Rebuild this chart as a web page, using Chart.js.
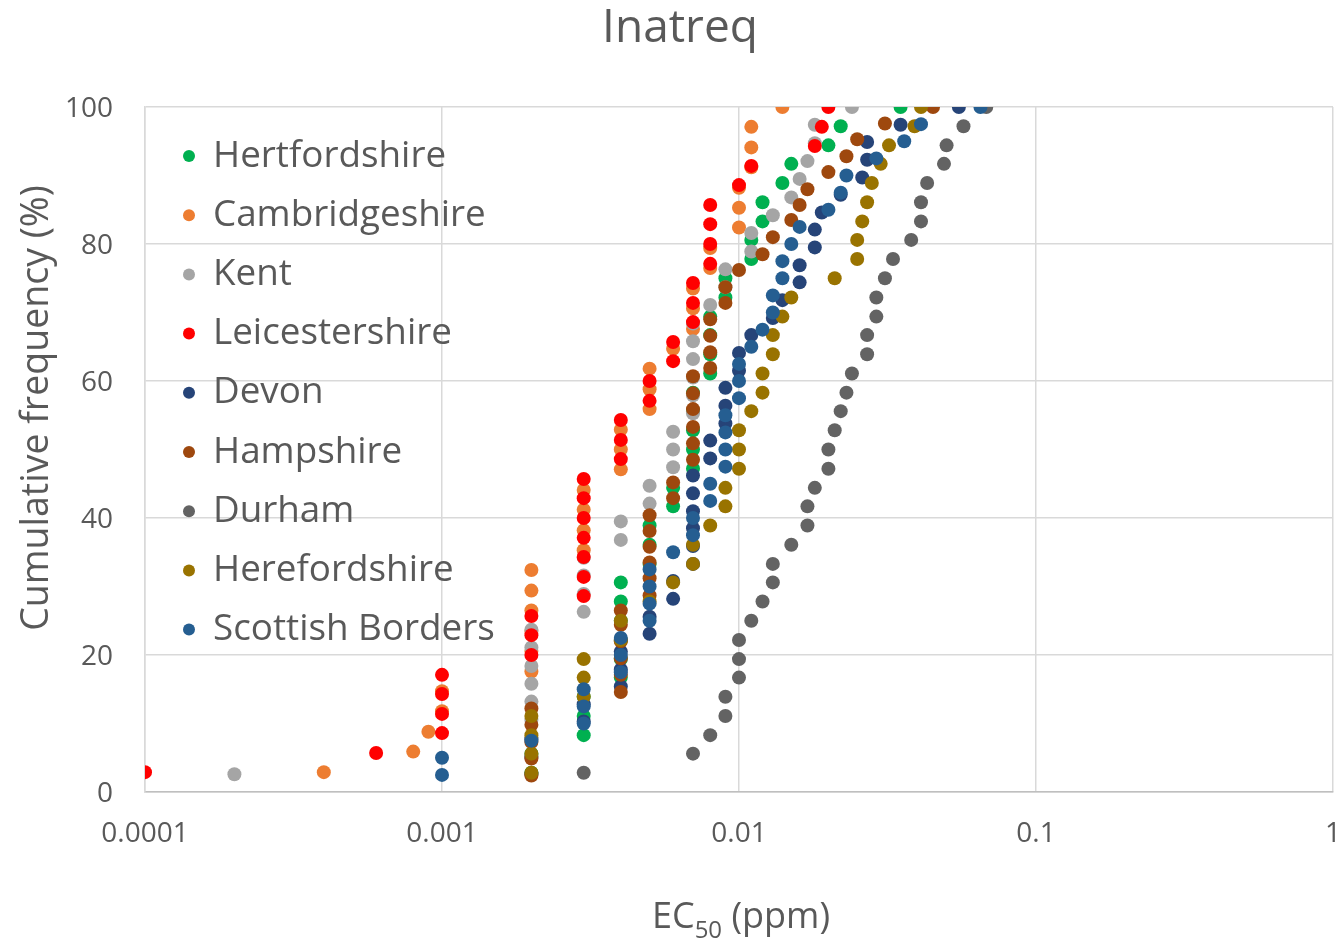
<!DOCTYPE html>
<html>
<head>
<meta charset="utf-8">
<title>Inatreq</title>
<script src="https://cdn.jsdelivr.net/npm/chart.js@4/dist/chart.umd.min.js"></script>
<style>
  html, body { margin: 0; padding: 0; background: #fff; }
  #wrap { position: relative; width: 1340px; height: 944px; }
</style>
</head>
<body>
<div id="wrap"><canvas id="chart" width="1340" height="944"></canvas></div>
<script>
const chartTitle = "Inatreq";
const yTitle = "Cumulative frequency (%)";
const xTitleMain = "EC";
const xTitleSub = "50";
const xTitleUnit = " (ppm)";

const xTicks = [0.0001, 0.001, 0.01, 0.1, 1];
const xTickLabels = ["0.0001", "0.001", "0.01", "0.1", "1"];
const yTicks = [0, 20, 40, 60, 80, 100];

const seriesNames = ["Hertfordshire", "Cambridgeshire", "Kent", "Leicestershire", "Devon", "Hampshire", "Durham", "Herefordshire", "Scottish Borders"];
const seriesColors = ["#00B050", "#ED7D31", "#A5A5A5", "#FF0000", "#264478", "#9E480E", "#636363", "#997300", "#255E91"];

// EC50 values (ppm) and cumulative frequency (%) per county
const hertsX = [0.002, 0.002, 0.003, 0.003, 0.003, 0.004, 0.004, 0.004, 0.004, 0.004, 0.004, 0.005, 0.005, 0.005, 0.006, 0.006, 0.007, 0.007, 0.007, 0.007, 0.007, 0.008, 0.008, 0.008, 0.008, 0.009, 0.009, 0.011, 0.011, 0.012, 0.012, 0.014, 0.015, 0.02, 0.022, 0.035];
const hertsY = [2.8, 5.6, 8.3, 11.1, 13.9, 16.7, 19.4, 22.2, 25, 27.8, 30.6, 33.3, 36.1, 38.9, 41.7, 44.4, 47.2, 50, 52.8, 55.6, 58.3, 61.1, 63.9, 66.7, 69.4, 72.2, 75, 77.8, 80.6, 83.3, 86.1, 88.9, 91.7, 94.4, 97.2, 100];

const cambsX = [0.0004, 0.0008, 0.0009, 0.001, 0.001, 0.002, 0.002, 0.002, 0.002, 0.002, 0.002, 0.003, 0.003, 0.003, 0.003, 0.004, 0.004, 0.004, 0.005, 0.005, 0.005, 0.006, 0.007, 0.007, 0.007, 0.008, 0.008, 0.01, 0.01, 0.01, 0.011, 0.011, 0.011, 0.014];
const cambsY = [2.9, 5.9, 8.8, 11.8, 14.7, 17.6, 20.6, 23.5, 26.5, 29.4, 32.4, 35.3, 38.2, 41.2, 44.1, 47.1, 50, 52.9, 55.9, 58.8, 61.8, 64.7, 67.6, 70.6, 73.5, 76.5, 79.4, 82.4, 85.3, 88.2, 91.2, 94.1, 97.1, 100];

const kentX = [0.0002, 0.002, 0.002, 0.002, 0.002, 0.002, 0.002, 0.002, 0.002, 0.003, 0.003, 0.003, 0.003, 0.004, 0.004, 0.005, 0.005, 0.006, 0.006, 0.006, 0.007, 0.007, 0.007, 0.007, 0.007, 0.007, 0.008, 0.009, 0.009, 0.011, 0.011, 0.013, 0.015, 0.016, 0.017, 0.018, 0.018, 0.024];
const kentY = [2.6, 5.3, 7.9, 10.5, 13.2, 15.8, 18.4, 21.1, 23.7, 26.3, 28.9, 31.6, 34.2, 36.8, 39.5, 42.1, 44.7, 47.4, 50, 52.6, 55.3, 57.9, 60.5, 63.2, 65.8, 68.4, 71.1, 73.7, 76.3, 78.9, 81.6, 84.2, 86.8, 89.5, 92.1, 94.7, 97.4, 100];

const leicsX = [0.0001, 0.0006, 0.001, 0.001, 0.001, 0.001, 0.002, 0.002, 0.002, 0.003, 0.003, 0.003, 0.003, 0.003, 0.003, 0.003, 0.004, 0.004, 0.004, 0.005, 0.005, 0.006, 0.006, 0.007, 0.007, 0.007, 0.008, 0.008, 0.008, 0.008, 0.01, 0.011, 0.018, 0.019, 0.02];
const leicsY = [2.9, 5.7, 8.6, 11.4, 14.3, 17.1, 20, 22.9, 25.7, 28.6, 31.4, 34.3, 37.1, 40, 42.9, 45.7, 48.6, 51.4, 54.3, 57.1, 60, 62.9, 65.7, 68.6, 71.4, 74.3, 77.1, 80, 82.9, 85.7, 88.6, 91.4, 94.3, 97.1, 100];

const devonX = [0.002, 0.002, 0.002, 0.003, 0.003, 0.004, 0.004, 0.004, 0.005, 0.005, 0.006, 0.006, 0.007, 0.007, 0.007, 0.007, 0.007, 0.007, 0.008, 0.008, 0.009, 0.009, 0.009, 0.01, 0.01, 0.011, 0.013, 0.014, 0.016, 0.016, 0.018, 0.018, 0.019, 0.022, 0.026, 0.027, 0.027, 0.035, 0.055];
const devonY = [2.6, 5.1, 7.7, 10.3, 12.8, 15.4, 17.9, 20.5, 23.1, 25.6, 28.2, 30.8, 33.3, 35.9, 38.5, 41, 43.6, 46.2, 48.7, 51.3, 53.8, 56.4, 59, 61.5, 64.1, 66.7, 69.2, 71.8, 74.4, 76.9, 79.5, 82.1, 84.6, 87.2, 89.7, 92.3, 94.9, 97.4, 100];

const hantsX = [0.002, 0.002, 0.002, 0.002, 0.002, 0.004, 0.004, 0.004, 0.004, 0.004, 0.004, 0.005, 0.005, 0.005, 0.005, 0.005, 0.005, 0.006, 0.006, 0.007, 0.007, 0.007, 0.007, 0.007, 0.007, 0.008, 0.008, 0.008, 0.008, 0.009, 0.009, 0.01, 0.012, 0.013, 0.015, 0.016, 0.017, 0.02, 0.023, 0.025, 0.031, 0.045];
const hantsY = [2.4, 4.9, 7.3, 9.8, 12.2, 14.6, 17.1, 19.5, 22, 24.4, 26.5, 28.7, 31.2, 33.5, 35.8, 38.1, 40.4, 42.9, 45.2, 48.5, 50.9, 53.3, 55.9, 58.2, 60.7, 61.9, 64.2, 66.6, 69, 71.4, 73.7, 76.2, 78.5, 81, 83.5, 85.7, 88, 90.5, 92.8, 95.3, 97.6, 100];

const durhamX = [0.003, 0.007, 0.008, 0.009, 0.009, 0.01, 0.01, 0.01, 0.011, 0.012, 0.013, 0.013, 0.015, 0.017, 0.017, 0.018, 0.02, 0.02, 0.021, 0.022, 0.023, 0.024, 0.027, 0.027, 0.029, 0.029, 0.031, 0.033, 0.038, 0.041, 0.041, 0.043, 0.049, 0.05, 0.057, 0.068];
const durhamY = [2.8, 5.6, 8.3, 11.1, 13.9, 16.7, 19.4, 22.2, 25, 27.8, 30.6, 33.3, 36.1, 38.9, 41.7, 44.4, 47.2, 50, 52.8, 55.6, 58.3, 61.1, 63.9, 66.7, 69.4, 72.2, 75, 77.8, 80.6, 83.3, 86.1, 88.9, 91.7, 94.4, 97.2, 100];

const herefX = [0.002, 0.002, 0.002, 0.002, 0.003, 0.003, 0.003, 0.004, 0.004, 0.005, 0.006, 0.007, 0.007, 0.008, 0.009, 0.009, 0.01, 0.01, 0.01, 0.011, 0.012, 0.012, 0.013, 0.013, 0.014, 0.015, 0.021, 0.025, 0.025, 0.026, 0.027, 0.028, 0.03, 0.032, 0.039, 0.041];
const herefY = [2.8, 5.6, 8.3, 11.1, 13.9, 16.7, 19.4, 22.2, 25, 27.8, 30.6, 33.3, 36.1, 38.9, 41.7, 44.4, 47.2, 50, 52.8, 55.6, 58.3, 61.1, 63.9, 66.7, 69.4, 72.2, 75, 77.8, 80.6, 83.3, 86.1, 88.9, 91.7, 94.4, 97.2, 100];

const bordersX = [0.001, 0.001, 0.002, 0.003, 0.003, 0.003, 0.004, 0.004, 0.004, 0.005, 0.005, 0.005, 0.005, 0.006, 0.007, 0.007, 0.008, 0.008, 0.009, 0.009, 0.009, 0.009, 0.01, 0.01, 0.01, 0.011, 0.012, 0.013, 0.013, 0.014, 0.014, 0.015, 0.016, 0.02, 0.022, 0.023, 0.029, 0.036, 0.041, 0.065];
const bordersY = [2.5, 5, 7.5, 10, 12.5, 15, 17.5, 20, 22.5, 25, 27.5, 30, 32.5, 35, 37.5, 40, 42.5, 45, 47.5, 50, 52.5, 55, 57.5, 60, 62.5, 65, 67.5, 70, 72.5, 75, 77.5, 80, 82.5, 85, 87.5, 90, 92.5, 95, 97.5, 100];

const seriesX = [hertsX, cambsX, kentX, leicsX, devonX, hantsX, durhamX, herefX, bordersX];
const seriesY = [hertsY, cambsY, kentY, leicsY, devonY, hantsY, durhamY, herefY, bordersY];

const textColor = "#595959";
const gridColor = "#D9D9D9";
const fontFamily = "'Open Sans', 'Noto Sans', sans-serif";

function pairUp(xs, ys) {
    return xs.map((x, i) => ({ x: x, y: ys[i] }));
}

// titles and the in-plot legend, drawn on top of the chart
const textPlugin = {
    id: "chartText",
    afterDraw(chart) {
        const ctx = chart.ctx;
        ctx.save();
        ctx.fillStyle = textColor;
        ctx.textBaseline = "alphabetic";

        ctx.font = `46px ${fontFamily}`;
        ctx.textAlign = "center";
        ctx.fillText(chartTitle, 680, 42);

        ctx.save();
        ctx.translate(48, 408);
        ctx.rotate(-Math.PI / 2);
        ctx.font = `37.5px ${fontFamily}`;
        ctx.fillText(yTitle, 0, 0);
        ctx.restore();

        ctx.textAlign = "left";
        ctx.font = `36px ${fontFamily}`;
        const wMain = ctx.measureText(xTitleMain).width;
        const wUnit = ctx.measureText(xTitleUnit).width;
        ctx.font = `24px ${fontFamily}`;
        const wSub = ctx.measureText(xTitleSub).width;
        let x = 741 - (wMain + wSub + wUnit) / 2;
        ctx.font = `36px ${fontFamily}`;
        ctx.fillText(xTitleMain, x, 928);
        x += wMain;
        ctx.font = `24px ${fontFamily}`;
        ctx.fillText(xTitleSub, x, 938);
        x += wSub;
        ctx.font = `36px ${fontFamily}`;
        ctx.fillText(xTitleUnit, x, 928);

        seriesNames.forEach((name, i) => {
            const y = 156 + i * 59.2;
            ctx.fillStyle = seriesColors[i];
            ctx.beginPath();
            ctx.arc(189, y, 6, 0, Math.PI * 2);
            ctx.fill();
            ctx.fillStyle = textColor;
            ctx.font = `36.8px ${fontFamily}`;
            ctx.fillText(name, 213, y + 10.5);
        });
        ctx.restore();
    }
};

new Chart(document.getElementById("chart"), {
    type: "scatter",
    data: {
        datasets: seriesNames.map((name, i) => ({
            label: name,
            data: pairUp(seriesX[i], seriesY[i]),
            backgroundColor: seriesColors[i],
            borderWidth: 0,
            pointRadius: 7,
            pointHoverRadius: 7,
            order: seriesNames.length - i
        }))
    },
    options: {
        responsive: false,
        animation: false,
        events: [],
        layout: { padding: { top: 107, right: 7, bottom: 0, left: 0 } },
        plugins: { legend: { display: false }, title: { display: false }, tooltip: { enabled: false } },
        scales: {
            x: {
                type: "logarithmic",
                min: xTicks[0],
                max: xTicks[xTicks.length - 1],
                afterBuildTicks: (scale) => { scale.ticks = xTicks.map((v) => ({ value: v })); },
                afterFit: (scale) => {
                    scale.height = 152;
                    scale.paddingLeft = 0;
                    scale.paddingRight = 0;
                },
                ticks: {
                    autoSkip: false,
                    maxRotation: 0,
                    padding: 25,
                    color: textColor,
                    font: { family: fontFamily, size: 28 },
                    callback: (value) => {
                        const idx = xTicks.findIndex((t) => Math.abs(t - value) / t < 1e-6);
                        return idx === -1 ? "" : xTickLabels[idx];
                    }
                },
                grid: { color: gridColor, lineWidth: 1.5, drawTicks: false },
                border: { color: "#BFBFBF", width: 1.5 }
            },
            y: {
                min: yTicks[0],
                max: yTicks[yTicks.length - 1],
                afterBuildTicks: (scale) => { scale.ticks = yTicks.map((v) => ({ value: v })); },
                afterFit: (scale) => { scale.width = 145; },
                ticks: {
                    padding: 32,
                    labelOffset: 2,
                    color: textColor,
                    font: { family: fontFamily, size: 28 }
                },
                grid: { color: gridColor, lineWidth: 1.5, drawTicks: false },
                border: { color: gridColor, width: 1.5 }
            }
        }
    },
    plugins: [textPlugin]
});
</script>
</body>
</html>
